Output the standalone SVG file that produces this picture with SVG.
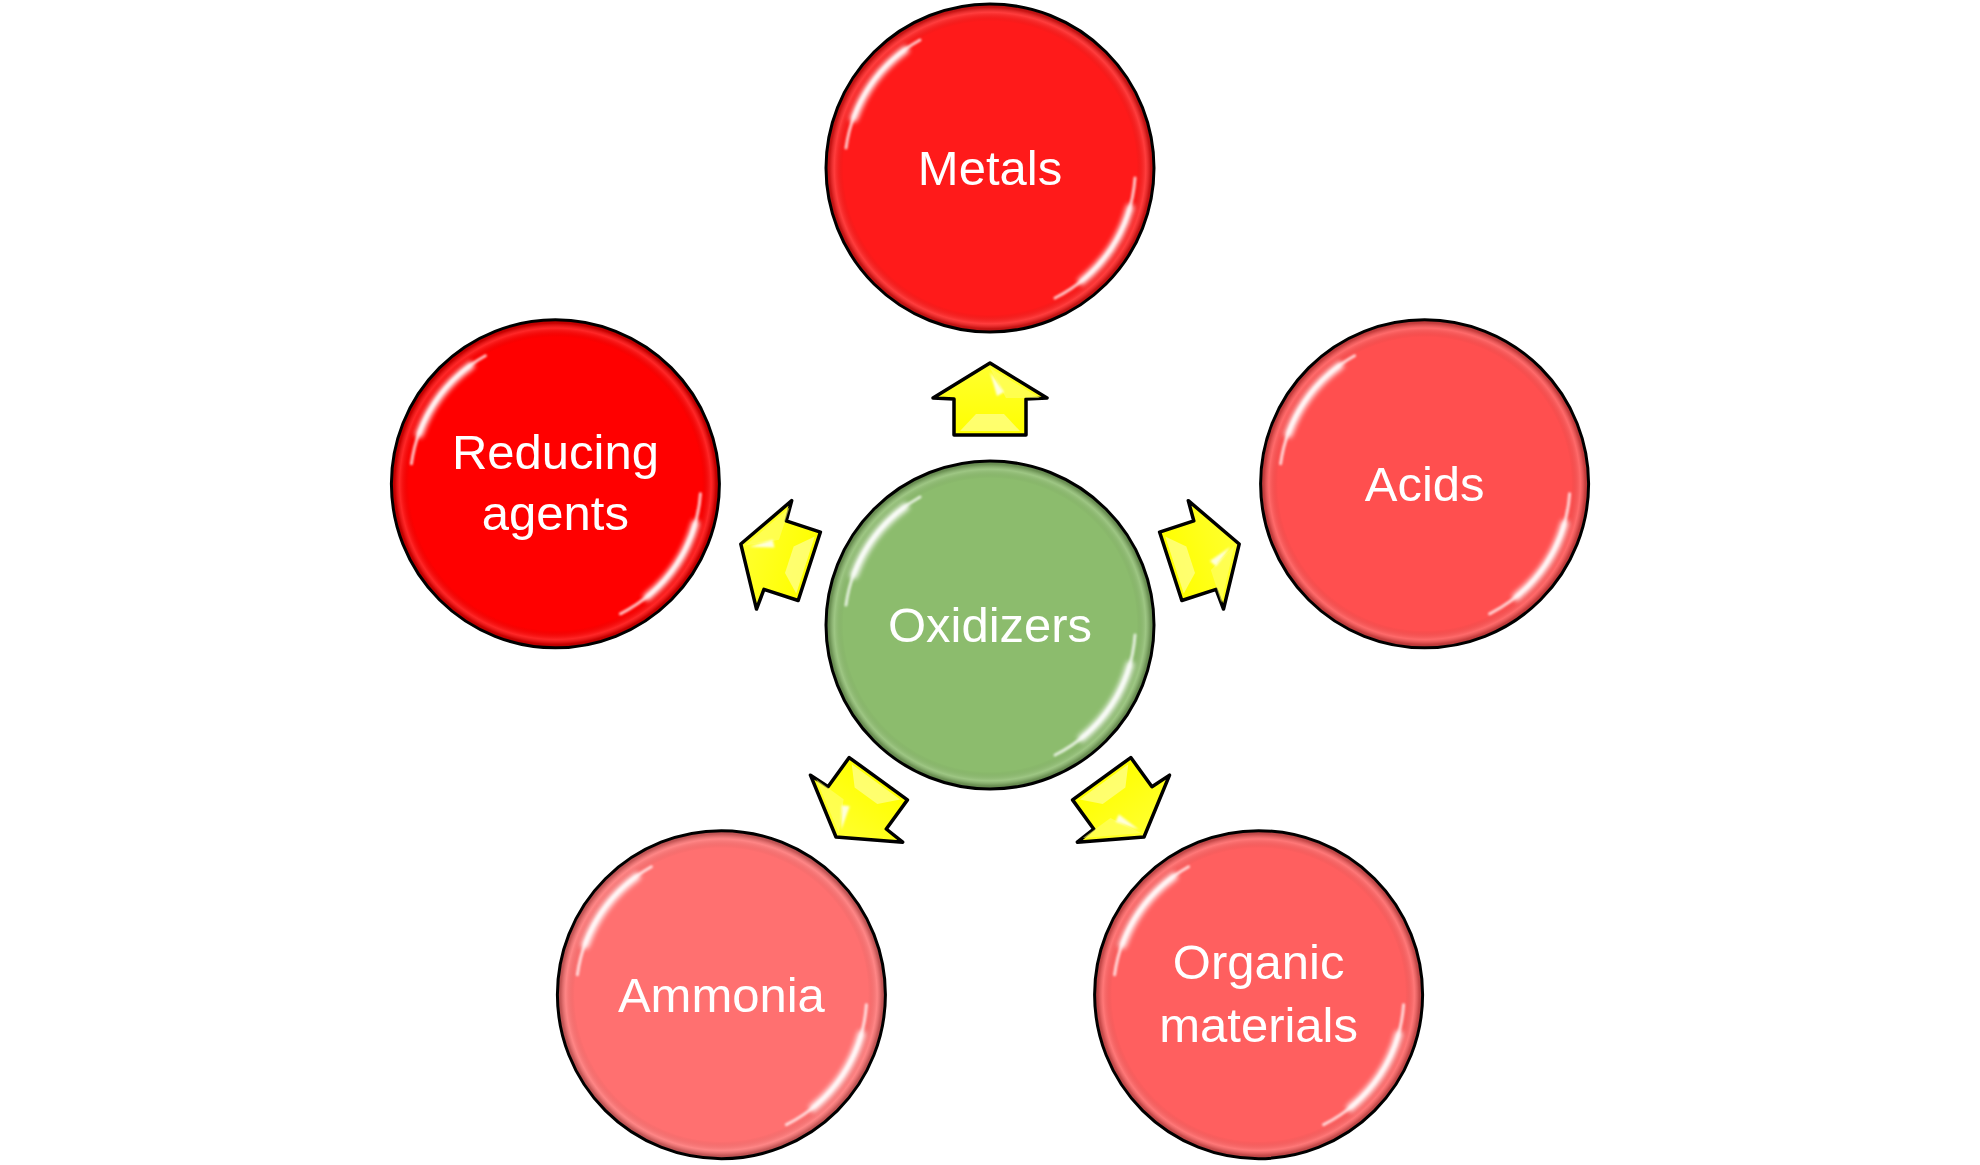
<svg xmlns="http://www.w3.org/2000/svg" width="1980" height="1165" viewBox="0 0 1980 1165">
<defs>
<radialGradient id="edge" cx="50%" cy="50%" r="50%">
<stop offset="0" stop-color="#000" stop-opacity="0"/>
<stop offset="0.9" stop-color="#000" stop-opacity="0"/>
<stop offset="0.955" stop-color="#fff" stop-opacity="0.15"/>
<stop offset="0.985" stop-color="#000" stop-opacity="0.22"/>
<stop offset="1" stop-color="#000" stop-opacity="0.3"/>
</radialGradient>
<linearGradient id="ygrad" x1="0" y1="0" x2="0" y2="1">
<stop offset="0" stop-color="#ffff30"/>
<stop offset="1" stop-color="#ffff00"/>
</linearGradient>
<filter id="blur" x="-20%" y="-20%" width="140%" height="140%">
<feGaussianBlur stdDeviation="2.5"/>
</filter>
<filter id="blur1" x="-20%" y="-20%" width="140%" height="140%">
<feGaussianBlur stdDeviation="1"/>
</filter>
<g id="gloss">
<path d="M-136,-50 A146,146 0 0 1 -85,-118" fill="none" stroke="#fff" stroke-width="8" stroke-linecap="round" filter="url(#blur)" opacity="0.9"/>
<path d="M-144,-20 A146,146 0 0 1 -70,-128" fill="none" stroke="#fff" stroke-width="3" stroke-linecap="round" filter="url(#blur1)" opacity="0.75"/>
<path d="M140,40 A146,146 0 0 1 92,113" fill="none" stroke="#fff" stroke-width="8" stroke-linecap="round" filter="url(#blur)" opacity="0.9"/>
<path d="M145,10 A146,146 0 0 1 65,130" fill="none" stroke="#fff" stroke-width="3" stroke-linecap="round" filter="url(#blur1)" opacity="0.75"/>
</g>
<g id="arrow">
<path d="M990,363 L1047,398 L1026,399 L1026,435 L954,435 L954,399 L933,398 Z" fill="url(#ygrad)" stroke="#000" stroke-width="3.5" stroke-linejoin="round"/>
<path d="M960,431 L976,414 L1004,414 L1020,431 Z" fill="#ffff99" opacity="0.7"/>
<path d="M990,368 L1040,398 L1006,398 Z" fill="#ffff70" opacity="0.6"/>
<path d="M990,372 L1004,392 L997,396 Z" fill="#fff" opacity="0.85" filter="url(#blur1)"/>
</g>
</defs>
<style>
.node circle.b { stroke: #000; stroke-width: 3; }
.lbl { font-family: "Liberation Sans", Arial, sans-serif; font-size: 49px; fill: #fff; text-anchor: middle; }
</style>
<rect width="1980" height="1165" fill="#fff"/>

<g id="connectors">
<use href="#arrow"/>
<use href="#arrow" transform="rotate(72 990 625)"/>
<use href="#arrow" transform="rotate(144 990 625)"/>
<use href="#arrow" transform="rotate(216 990 625)"/>
<use href="#arrow" transform="rotate(288 990 625)"/>
</g>

<g id="node-oxidizers" class="node" transform="translate(990 625)">
<circle class="b" r="164" fill="#8cbc6d"/>
<circle r="163" fill="url(#edge)"/>
<use href="#gloss"/>
<text class="lbl" x="0" y="17">Oxidizers</text>
</g>

<g id="node-metals" class="node" transform="translate(990 168)">
<circle class="b" r="164" fill="#ff1a1a"/>
<circle r="163" fill="url(#edge)"/>
<use href="#gloss"/>
<text class="lbl" x="0" y="17">Metals</text>
</g>

<g id="node-acids" class="node" transform="translate(1424.6 483.8)">
<circle class="b" r="164" fill="#ff4f4f"/>
<circle r="163" fill="url(#edge)"/>
<use href="#gloss"/>
<text class="lbl" x="0" y="17">Acids</text>
</g>

<g id="node-organic" class="node" transform="translate(1258.6 994.7)">
<circle class="b" r="164" fill="#ff5f5f"/>
<circle r="163" fill="url(#edge)"/>
<use href="#gloss"/>
<text class="lbl" x="0" y="-16">Organic</text>
<text class="lbl" x="0" y="47">materials</text>
</g>

<g id="node-ammonia" class="node" transform="translate(721.4 994.7)">
<circle class="b" r="164" fill="#ff7070"/>
<circle r="163" fill="url(#edge)"/>
<use href="#gloss"/>
<text class="lbl" x="0" y="17">Ammonia</text>
</g>

<g id="node-reducing" class="node" transform="translate(555.4 483.8)">
<circle class="b" r="164" fill="#ff0000"/>
<circle r="163" fill="url(#edge)"/>
<use href="#gloss"/>
<text class="lbl" x="0" y="-15">Reducing</text>
<text class="lbl" x="0" y="46">agents</text>
</g>
</svg>
